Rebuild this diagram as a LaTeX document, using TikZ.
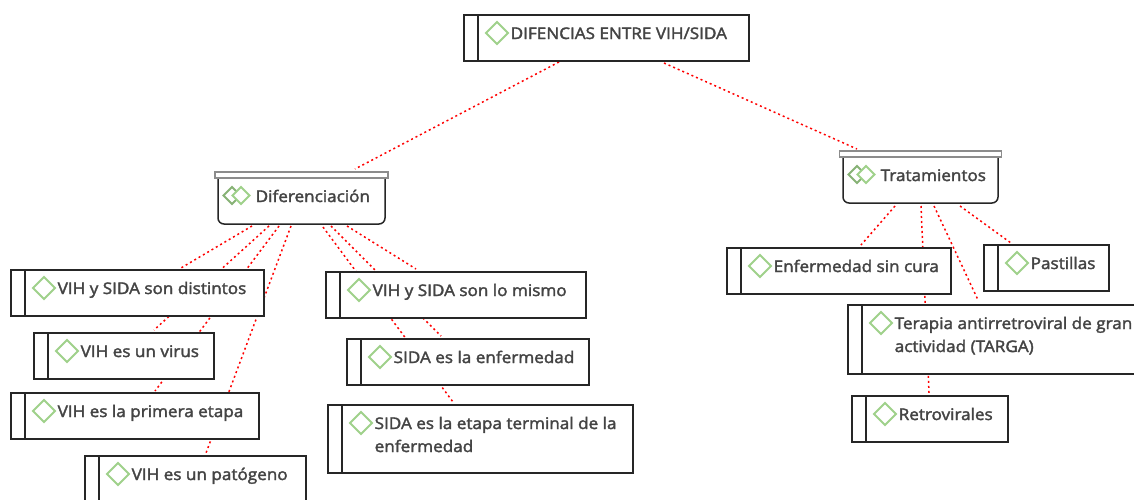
\documentclass[tikz,border=0pt]{standalone}
\usepackage{fontspec}
\setmainfont{Open Sans}[FakeBold=2.2, FakeStretch=1.07]
\usetikzlibrary{backgrounds}
\definecolor{inktext}{HTML}{444444}
\definecolor{leafgreen}{HTML}{9FD18B}
\tikzset{
    itembox/.style={draw=black!85, fill=white, line width=1.5pt, anchor=north west, inner sep=0pt, outer sep=0pt, minimum height=46pt,
        path picture={
            \draw[line width=1.5pt, black!85] ([xshift=14pt]path picture bounding box.north west) -- ([xshift=14pt]path picture bounding box.south west);
            \draw[leafgreen, line width=2pt] ([shift={(33,7)}]path picture bounding box.north west) -- ++(11,11) -- ++(-11,11) -- ++(-11,-11) -- cycle;
        }},
    branchbox/.style={draw=black!85, fill=white, line width=1.5pt, rounded corners=6pt, anchor=north west, inner sep=0pt, outer sep=0pt, minimum height=52pt,
        path picture={
            \draw[sharp corners, leafgreen!85!black, line width=2pt] ([shift={(14,15)}]path picture bounding box.north west) -- ++(8.5,8.5) -- ++(-8.5,8.5) -- ++(-8.5,-8.5) -- cycle;
            \draw[sharp corners, leafgreen, line width=2pt, fill=white] ([shift={(23,15)}]path picture bounding box.north west) -- ++(8.5,8.5) -- ++(-8.5,8.5) -- ++(-8.5,-8.5) -- cycle;
        }},
    branchcap/.style={draw=black!45, fill=white, line width=1.5pt, anchor=north, inner sep=0pt, outer sep=0pt, minimum height=6pt},
    itemtext/.style={anchor=base west, inner sep=0pt, align=left, text=inktext, font=\fontsize{16}{23}\selectfont, xshift=46.5pt, yshift=-24pt},
    itemtwolines/.style={itemtext, yshift=-23pt},
    branchtext/.style={anchor=base west, inner sep=0pt, text=inktext, font=\fontsize{16}{23}\selectfont, xshift=37.5pt, yshift=-30pt},
    link/.style={red, line width=1.5pt, dash pattern=on 2pt off 3pt}
}
\begin{document}
\begin{tikzpicture}[x=1pt, y=-1pt]
    \useasboundingbox (0,0) rectangle (1134,499);

    % top of the map
    \node [itembox, minimum width=285pt, label={[itemtext]north west:{DIFENCIAS ENTRE VIH/SIDA}}] (root) at (464,15) {};

    % the two branches
    \node [branchbox, minimum width=167pt, label={[branchtext]north west:{Diferenciación}}] (dif) at (218,172) {};
    \node [branchcap, minimum width=173pt] (difcap) at (dif.north) {};
    \node [branchbox, minimum width=155pt, label={[branchtext]north west:{Tratamientos}}] (trat) at (843,151) {};
    \node [branchcap, minimum width=162pt] (tratcap) at (trat.north) {};

    % left side
    \node [itembox, minimum width=253pt, label={[itemtext]north west:{VIH y SIDA son distintos}}] (distintos) at (11,270) {};
    \node [itembox, minimum width=180pt, label={[itemtext]north west:{VIH es un virus}}] (virus) at (34,333) {};
    \node [itembox, minimum width=248pt, label={[itemtext]north west:{VIH es la primera etapa}}] (primera) at (11,393) {};
    \node [itembox, minimum width=221pt, label={[itemtext]north west:{VIH es un patógeno}}] (patogeno) at (85,456) {};
    \node [itembox, minimum width=260pt, label={[itemtext]north west:{VIH y SIDA son lo mismo}}] (mismo) at (326,272) {};
    \node [itembox, minimum width=242pt, label={[itemtext]north west:{SIDA es la enfermedad}}] (enfermedad) at (347,339) {};
    \node [itembox, minimum width=305pt, minimum height=68pt, label={[itemtwolines]north west:{SIDA es la etapa terminal de la\\enfermedad}}] (terminal) at (328,405) {};

    % right side
    \node [itembox, minimum width=224pt, label={[itemtext]north west:{Enfermedad sin cura}}] (sincura) at (727,248) {};
    \node [itembox, minimum width=125pt, label={[itemtext]north west:{Pastillas}}] (pastillas) at (984,245) {};
    \node [itembox, minimum width=300pt, minimum height=69pt, label={[itemtwolines]north west:{Terapia antirretroviral de gran\\actividad (TARGA)}}] (terapia) at (848,305) {};
    \node [itembox, minimum width=156pt, label={[itemtext]north west:{Retrovirales}}] (retro) at (852,396) {};

    \begin{scope}[on background layer]
        \fill[white] (0,0) rectangle (1134,499);
        \draw[link] ([shift={(95,1)}]root.south west) -- ([shift={(137,-3)}]dif.north west);
        \draw[link] ([shift={(200,2)}]root.south west) -- ([shift={(14,-2)}]trat.north west);

        \draw[link] ([shift={(34,2)}]dif.south west) -- ([shift={(170,-2)}]distintos.north west);
        \draw[link] ([shift={(51,2)}]dif.south west) -- ([shift={(120,-3)}]virus.north west);
        \draw[link] ([shift={(61,2)}]dif.south west) -- ([shift={(144,-2)}]primera.north west);
        \draw[link] ([shift={(73,2)}]dif.south west) -- ([shift={(121,-3)}]patogeno.north west);
        \draw[link] ([shift={(129,2)}]dif.south west) -- ([shift={(90,-3)}]mismo.north west);
        \draw[link] ([shift={(113,2)}]dif.south west) -- ([shift={(94,-3)}]enfermedad.north west);
        \draw[link] ([shift={(105,3)}]dif.south west) -- ([shift={(125,-3)}]terminal.north west);

        \draw[link] ([shift={(52,3)}]trat.south west) -- ([shift={(134,-3)}]sincura.north west);
        \draw[link] ([shift={(78,3)}]trat.south west) -- ([shift={(77,-3)}]retro.north west);
        \draw[link] ([shift={(91,3)}]trat.south west) -- ([shift={(130,-5)}]terapia.north west);
        \draw[link] ([shift={(117,3)}]trat.south west) -- ([shift={(27,-2)}]pastillas.north west);
    \end{scope}
\end{tikzpicture}
\end{document}
